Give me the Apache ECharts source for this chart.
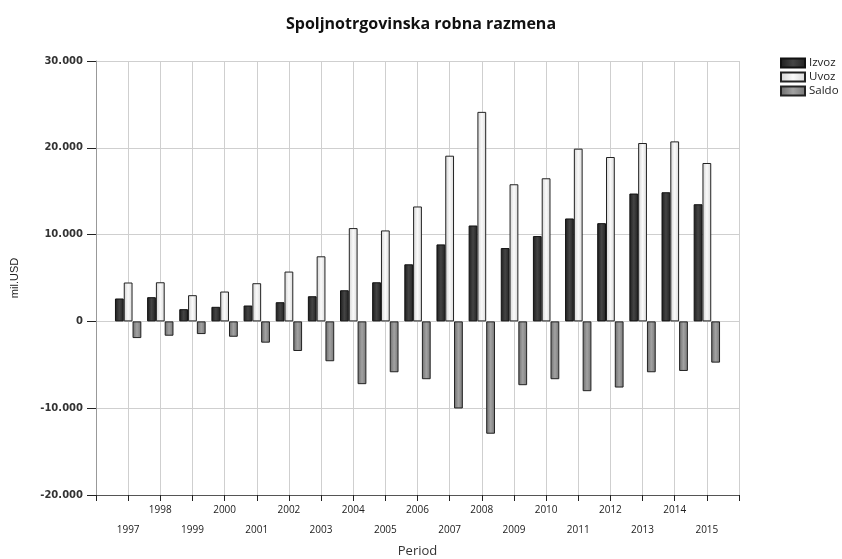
<!DOCTYPE html>
<html>
<head>
<meta charset="utf-8">
<script src="https://cdn.jsdelivr.net/npm/echarts@6/dist/echarts.min.js"></script>
<style>
  html, body { margin: 0; padding: 0; background: #fff; }
  #chart { width: 842px; height: 559px; }
</style>
</head>
<body>
<div id="chart"></div>
<script>
// podaci (mil. USD)
var years = ['1997', '1998', '1999', '2000', '2001', '2002', '2003', '2004', '2005', '2006',
  '2007', '2008', '2009', '2010', '2011', '2012', '2013', '2014', '2015']
var izvoz = [2640, 2790, 1410, 1680, 1830, 2210, 2900, 3590, 4510, 6580,
  8870, 11050, 8450, 9830, 11860, 11320, 14730, 14880, 13500]
var uvoz = [4480, 4510, 3020, 3440, 4400, 5740, 7500, 10750, 10480, 13240,
  19090, 24140, 15800, 16490, 19900, 18940, 20550, 20740, 18250]
var saldo = [-1920, -1650, -1460, -1770, -2450, -3410, -4590, -7230, -5860, -6660,
  -10030, -12940, -7350, -6660, -8040, -7620, -5860, -5710, -4750]
var yTicks = [-20000, -10000, 0, 10000, 20000, 30000]

// prazna kategorija na oba kraja ose
function pad (arr, empty) {
  return [empty].concat(arr, [empty])
}

function grad (a, b, c) {
  return new echarts.graphic.LinearGradient(0, 0, 1, 0, [
    { offset: 0, color: a },
    { offset: 0.5, color: b },
    { offset: 1, color: c }
  ])
}

function fmt (v) {
  return String(v).replace(/\B(?=(\d{3})+(?!\d))/g, '.')
}

var chart = echarts.init(document.getElementById('chart'))
var option = {
  animation: false,
  title: {
    text: 'Spoljnotrgovinska robna razmena',
    left: 'center',
    top: 11,
    textStyle: { fontFamily: 'Open Sans', fontSize: 16, fontWeight: 'bold', color: '#111' }
  },
  legend: {
    orient: 'vertical',
    left: 780,
    top: 57,
    padding: 0,
    itemWidth: 24,
    itemHeight: 9,
    itemGap: 2,
    icon: 'rect',
    textStyle: { fontFamily: 'Open Sans', fontSize: 11.5, color: '#222', padding: [0, 0, 0, -1] },
    data: ['Izvoz', 'Uvoz', 'Saldo']
  },
  grid: { left: 96, right: 103, top: 61, bottom: 64, outerBoundsMode: 'none' },
  xAxis: {
    type: 'category',
    boundaryGap: false,
    data: pad(years, ''),
    name: 'Period',
    nameLocation: 'middle',
    nameGap: 44,
    nameTextStyle: { fontFamily: 'Open Sans', fontSize: 13, color: '#333' },
    axisLine: { onZero: false, lineStyle: { color: '#555' } },
    axisTick: { interval: 0, length: 6, lineStyle: { color: '#222' } },
    axisLabel: {
      interval: 0,
      margin: 5,
      fontFamily: 'Open Sans',
      fontSize: 10,
      color: '#222',
      lineHeight: 20,
      formatter: function (v) {
        if (!v) return ''
        return (+v % 2 === 1) ? '\n' + v : v
      }
    },
    splitLine: { show: true, interval: 0, lineStyle: { color: '#cfcfcf' } }
  },
  yAxis: {
    type: 'value',
    min: yTicks[0],
    max: yTicks[yTicks.length - 1],
    interval: 10000,
    name: 'mil.USD',
    nameLocation: 'middle',
    nameGap: 76,
    nameTextStyle: { fontFamily: 'Liberation Sans', fontSize: 11, color: '#222' },
    axisLine: { show: true, lineStyle: { color: '#999' } },
    axisTick: { show: true, length: 9, lineStyle: { color: '#222' } },
    axisLabel: {
      margin: 13,
      fontFamily: 'DejaVu Sans',
      fontSize: 10,
      fontWeight: 'bold',
      color: '#333',
      formatter: fmt
    },
    splitLine: { lineStyle: { color: '#cfcfcf' } }
  },
  series: [
    {
      name: 'Izvoz',
      type: 'bar',
      barGap: '0%',
      barCategoryGap: '18%',
      data: pad(izvoz, null),
      itemStyle: { color: grad('#1c1c1c', '#444', '#222'), borderColor: '#111', borderWidth: 1 }
    },
    {
      name: 'Uvoz',
      type: 'bar',
      data: pad(uvoz, null),
      itemStyle: { color: grad('#d2d2d2', '#fafafa', '#d8d8d8'), borderColor: '#222', borderWidth: 1 }
    },
    {
      name: 'Saldo',
      type: 'bar',
      data: pad(saldo, null),
      itemStyle: { color: grad('#6c6c6c', '#a2a2a2', '#767676'), borderColor: '#222', borderWidth: 1 }
    }
  ]
}
chart.setOption(option)
</script>
</body>
</html>
